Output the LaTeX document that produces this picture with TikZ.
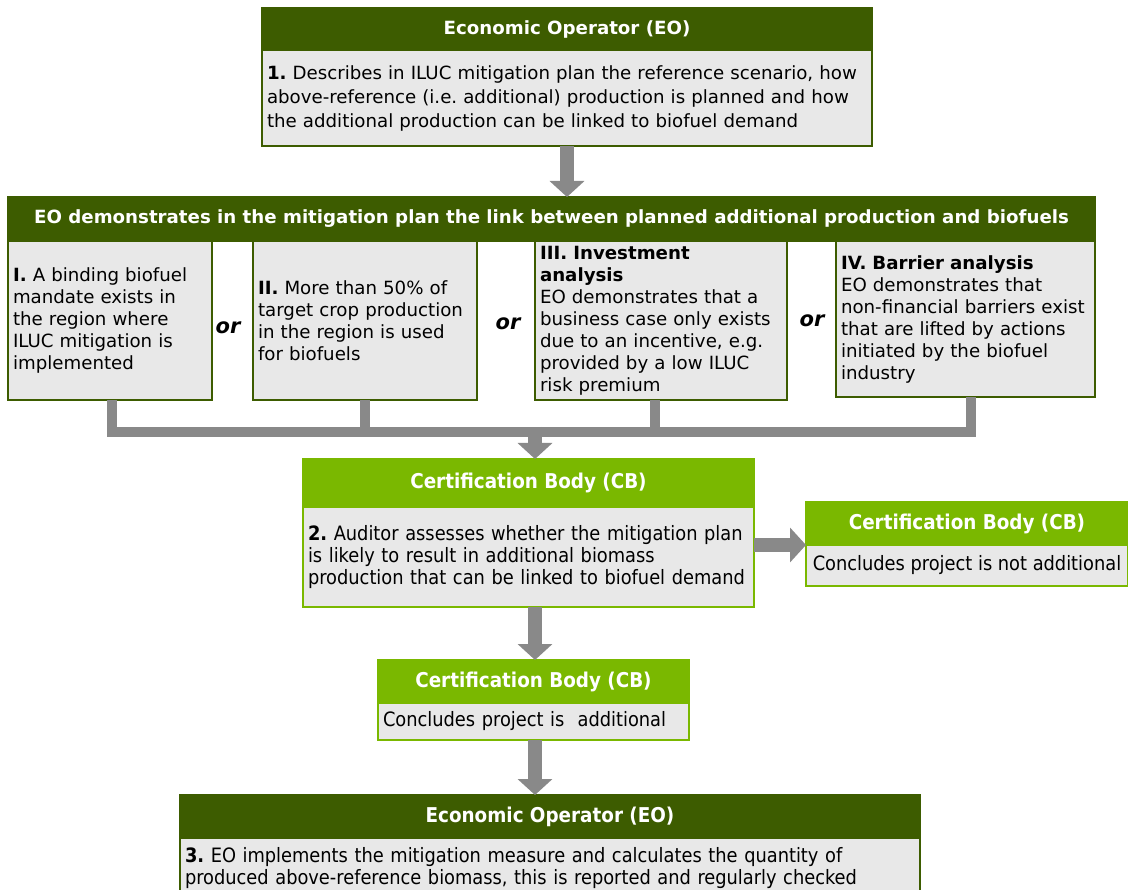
\documentclass[tikz,border=0pt]{standalone}
\usepackage{fontspec}
\setmainfont{DejaVu Sans}
\newfontfamily\condfont{DejaVu Sans Condensed}
\usetikzlibrary{arrows.meta}
\definecolor{eogreen}{RGB}{61,92,0}
\definecolor{cbgreen}{RGB}{122,184,0}
\definecolor{boxgray}{RGB}{232,232,232}
\definecolor{linkgray}{RGB}{137,137,137}
\frenchspacing

\begin{document}
\begin{tikzpicture}[x=1pt,y=-1pt,
	every node/.style={font=\fontsize{18.2}{22}\selectfont, inner sep=0pt, outer sep=0pt},
	head/.style={fill=#1, draw=#1, line width=1.2pt, text=white, anchor=north west, font=\bfseries\fontsize{18.2}{20}\selectfont},
	condhead/.style={head=#1, font=\condfont\bfseries\fontsize{20.4}{22}\selectfont},
	body/.style={fill=boxgray, draw=#1, line width=1.2pt, anchor=north west, align=left, inner xsep=5pt},
	condbody/.style={body=#1, font=\condfont\fontsize{19.8}{22}\selectfont},
	ortext/.style={font=\bfseries\itshape\fontsize{21}{22}\selectfont},
	fat/.style={draw=linkgray, line width=14pt, -{Triangle[width=34pt,length=16pt]}},
	bar/.style={draw=linkgray, line width=10pt}]
	\clip (0,0) rectangle (1128,890);
	\fill[white] (0,0) rectangle (1128,890);
	% economic operator, step 1
	\node[head=eogreen, minimum width=610pt, minimum height=42pt] (eoA) at (262,8) {Economic Operator (EO)};
	\node[body=eogreen, text width=600pt, minimum height=96pt, font=\fontsize{18.2}{24}\selectfont] (eoAb) at (262,50) {\textbf{1.} Describes in ILUC mitigation plan the reference scenario, how\\above-reference (i.e. additional) production is planned and how\\the additional production can be linked to biofuel demand};
	\node[head=eogreen, minimum width=1087pt, minimum height=44pt] (link) at (8,197) {EO demonstrates in the mitigation plan the link between planned additional production and biofuels};
	\draw[fat] (eoAb.south) -- (eoAb.south |- link.north);
	% the four ways
	\node[body=eogreen, text width=194pt, minimum height=159pt] (bI) at (8,241) {\textbf{I.} A binding biofuel\\mandate exists in\\the region where\\ILUC mitigation is\\implemented};
	\node[body=eogreen, text width=214pt, minimum height=159pt] (bII) at (253,241) {\textbf{II.} More than 50\% of\\target crop production\\in the region is used\\for biofuels};
	\node[body=eogreen, text width=242pt, minimum height=159pt] (bIII) at (535,241) {\textbf{III. Investment}\\\textbf{analysis}\\EO demonstrates that a\\business case only exists\\due to an incentive, e.g.\\provided by a low ILUC\\risk premium};
	\node[body=eogreen, text width=249pt, minimum height=156pt] (bIV) at (836,241) {\textbf{IV. Barrier analysis}\\EO demonstrates that\\non-financial barriers exist\\that are lifted by actions\\initiated by the biofuel\\industry};
	\foreach \x/\y [count=\i] in {228/328, 508/324, 812/321} \node[ortext] (or\i) at (\x,\y) {or};
	\coordinate (mrg) at (535,432);
	\draw[bar] ([xshift=2pt]bI.south) |- ([xshift=5pt]bIV.south |- mrg) -- ([xshift=5pt]bIV.south);
	\foreach \b/\s in {bII/0, bIII/-6} \draw[bar] ([xshift=\s pt]\b.south) -- ([xshift=\s pt]\b.south |- mrg);
	% certification body, step 2
	\node[condhead=cbgreen, minimum width=451pt, minimum height=48pt] (cbA) at (303,459) {Certification Body (CB)};
	\node[condbody=cbgreen, text width=441pt, minimum height=100pt] (cbAb) at (303,507) {\textbf{2.} Auditor assesses whether the mitigation plan\\is likely to result in additional biomass\\production that can be linked to biofuel demand};
	\draw[fat] ([yshift=5pt]mrg) -- (mrg |- cbA.north);
	\node[condhead=cbgreen, minimum width=322pt, minimum height=43pt] (cbN) at (806,502) {Certification Body (CB)};
	\node[condbody=cbgreen, minimum width=322pt, minimum height=41pt] (cbNb) at (806,545) {Concludes project is not additional};
	\draw[fat] (cbAb.east |- cbN.south) -- (cbN.south west);
	\node[condhead=cbgreen, minimum width=311pt, minimum height=43pt] (cbY) at (378,660) {Certification Body (CB)};
	\node[condbody=cbgreen, text width=301pt, minimum height=37pt] (cbYb) at (378,703) {Concludes project is\ \ additional};
	\draw[fat] (mrg |- cbAb.south) -- (mrg |- cbY.north);
	% economic operator, step 3
	\node[condhead=eogreen, minimum width=740pt, minimum height=43pt] (eoB) at (180,795) {Economic Operator (EO)};
	\node[condbody=eogreen, text width=730pt, minimum height=60pt] (eoBb) at (180,838) {\textbf{3.} EO implements the mitigation measure and calculates the quantity of\\produced above-reference biomass, this is reported and regularly checked};
	\draw[fat] (mrg |- cbYb.south) -- (mrg |- eoB.north);
\end{tikzpicture}
\end{document}
